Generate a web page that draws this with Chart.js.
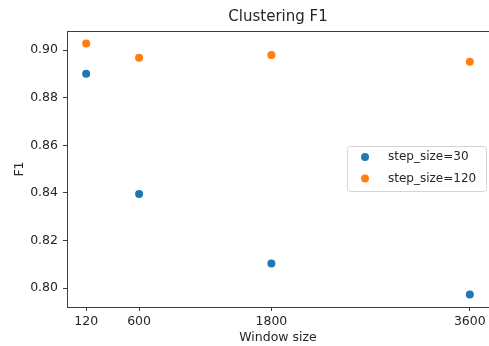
<!DOCTYPE html>
<html>
<head>
<meta charset="utf-8">
<style>
  html, body { margin: 0; padding: 0; background: #fff; overflow: hidden; }
  #wrap { width: 493px; height: 346px; }
</style>
<script src="https://cdn.jsdelivr.net/npm/chart.js@4/dist/chart.umd.min.js"></script>
</head>
<body>
<div id="wrap"><canvas id="c" width="493" height="346"></canvas></div>
<script>
// Window sizes tested and the clustering F1 for each step size
const windowSizes = [120, 600, 1800, 3600];
const f1Step30 = [0.8900, 0.8396, 0.8104, 0.7974];
const f1Step120 = [0.9027, 0.8968, 0.8979, 0.8951];
const xTicks = [120, 600, 1800, 3600];
const yTicks = [0.80, 0.82, 0.84, 0.86, 0.88, 0.90];
const seriesLabels = ['step_size=30', 'step_size=120'];
const seriesColors = ['#1f77b4', '#ff7f0e'];

const FONT = 'DejaVu Sans';
const INK = '#262626';
const SPINE = '#3c3c3c';

function points(values) {
  return windowSizes.map((w, i) => ({ x: w, y: values[i] }));
}

// Axes frame: Chart.js draws left/bottom borders, this adds the top edge
const topSpine = {
  id: 'topSpine',
  afterDatasetsDraw(chart) {
    const { ctx, chartArea } = chart;
    ctx.save();
    ctx.strokeStyle = SPINE;
    ctx.lineWidth = 1;
    ctx.beginPath();
    ctx.moveTo(chartArea.left, Math.round(chartArea.top) + 0.5);
    ctx.lineTo(chartArea.right, Math.round(chartArea.top) + 0.5);
    ctx.stroke();
    ctx.restore();
  }
};

// Legend box placed inside the plot, to the right
const insideLegend = {
  id: 'insideLegend',
  afterDraw(chart) {
    const { ctx } = chart;
    const box = { x: 347.5, y: 146.5, w: 139, h: 45 };
    ctx.save();
    ctx.fillStyle = 'rgba(255,255,255,0.85)';
    ctx.strokeStyle = '#d4d4d4';
    ctx.lineWidth = 1;
    ctx.beginPath();
    ctx.roundRect(box.x, box.y, box.w, box.h, 3);
    ctx.fill();
    ctx.stroke();
    ctx.font = '12px "' + FONT + '"';
    ctx.textBaseline = 'middle';
    ctx.textAlign = 'left';
    chart.data.datasets.forEach((ds, i) => {
      const cy = 157 + i * 21.6;
      ctx.fillStyle = ds.backgroundColor;
      ctx.beginPath();
      ctx.arc(365, cy, 4, 0, Math.PI * 2);
      ctx.fill();
      ctx.fillStyle = INK;
      ctx.fillText(ds.label, 388, cy);
    });
    ctx.restore();
  }
};

new Chart(document.getElementById('c'), {
  type: 'scatter',
  data: {
    datasets: [
      {
        label: seriesLabels[0],
        data: points(f1Step30),
        backgroundColor: seriesColors[0],
        borderColor: seriesColors[0],
        pointRadius: 4,
        pointBorderWidth: 0
      },
      {
        label: seriesLabels[1],
        data: points(f1Step120),
        backgroundColor: seriesColors[1],
        borderColor: seriesColors[1],
        pointRadius: 4,
        pointBorderWidth: 0
      }
    ]
  },
  options: {
    responsive: false,
    animation: false,
    devicePixelRatio: 1,
    layout: { padding: 0 },
    plugins: {
      legend: { display: false },
      tooltip: { enabled: false },
      title: {
        display: true,
        fullSize: false,
        text: 'Clustering F1',
        color: INK,
        font: { family: FONT, size: 15, weight: 'normal' },
        padding: { top: 8, bottom: 5 }
      }
    },
    scales: {
      x: {
        type: 'linear',
        min: -54,
        max: 3774,
        afterFit(scale) { scale.height = 39; },
        afterBuildTicks(scale) { scale.ticks = xTicks.map(v => ({ value: v })); },
        grid: { drawOnChartArea: false, tickLength: 4, color: SPINE },
        border: { display: true, color: SPINE, width: 1 },
        ticks: {
          color: INK,
          padding: 3,
          maxRotation: 0,
          font: { family: FONT, size: 12.5 },
          callback: v => String(v)
        },
        title: {
          display: true,
          text: 'Window size',
          color: INK,
          font: { family: FONT, size: 12.5 },
          padding: { top: 0, bottom: 1 }
        }
      },
      y: {
        type: 'linear',
        min: 0.7921,
        max: 0.9080,
        afterFit(scale) { scale.width = 67; },
        afterBuildTicks(scale) { scale.ticks = yTicks.map(v => ({ value: v })); },
        grid: { drawOnChartArea: false, tickLength: 4, color: SPINE },
        border: { display: true, color: SPINE, width: 1 },
        ticks: {
          color: INK,
          padding: 5,
          font: { family: FONT, size: 12.5 },
          callback: v => Number(v).toFixed(2)
        },
        title: {
          display: true,
          text: 'F1',
          color: INK,
          font: { family: FONT, size: 12.5 },
          padding: { top: 12, bottom: 0 }
        }
      }
    }
  },
  plugins: [topSpine, insideLegend]
});
</script>
</body>
</html>
